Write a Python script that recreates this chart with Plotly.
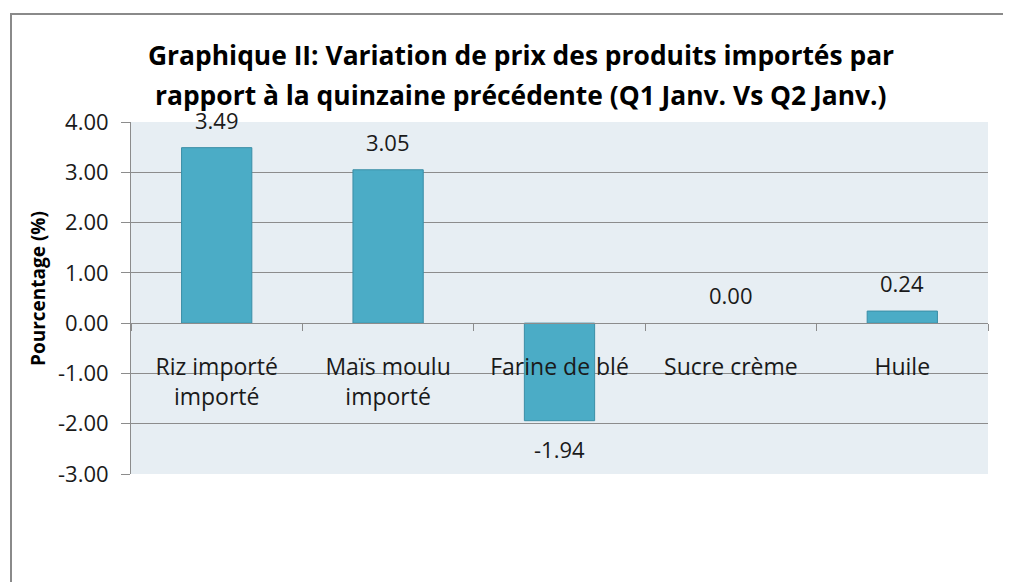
import plotly.graph_objects as go

categories = ["Riz importé<br>importé", "Maïs moulu<br>importé", "Farine de blé", "Sucre crème", "Huile"]
values = [3.49, 3.05, -1.94, 0.00, 0.24]
y_ticks = [4, 3, 2, 1, 0, -1, -2, -3]
title_lines = [
    "Graphique II: Variation de prix des produits importés par",
    "rapport à la quinzaine précédente (Q1 Janv. Vs Q2 Janv.)",
]
y_title = "Pourcentage (%)"

FONT = "Open Sans"
GRID = "#8c8c8c"
TXT = "#1a1a1a"

W, H = 1011, 582
OFF = 8  # page body margin offset
L, R, T, B = 131 - OFF, W - (988 - OFF), 122 - OFF, H - (474 - OFF)
pw, ph = W - L - R, H - T - B


def px2paper(px, py):
    return (px - OFF - L) / pw, (H - B - (py - OFF)) / ph


fig = go.Figure()
fig.add_trace(go.Bar(
    x=categories, y=values,
    marker=dict(color="#4bacc6",
                line=dict(color="#3b8ea6", width=[1 if v != 0 else 0 for v in values])),
    hoverinfo="skip",
))

# data labels
for c, v in zip(categories, values):
    fig.add_annotation(x=c, y=v, text=f"{v:.2f}", showarrow=False,
                       yanchor="bottom" if v >= 0 else "top",
                       yshift=11 if v >= 0 else -11,
                       font=dict(family=FONT, size=22, color=TXT))

# title lines
for line, sy in zip(title_lines, [55, 95]):
    x, y = px2paper(521, sy)
    fig.add_annotation(x=x, y=y, xref="paper", yref="paper",
                       text=f"<b>{line}</b>", showarrow=False,
                       xanchor="center", yanchor="middle",
                       font=dict(family=FONT, size=26.4, color="#000"))

# y axis title
x, y = px2paper(38, 289)
fig.add_annotation(x=x, y=y, xref="paper", yref="paper",
                   text=f"<b>{y_title}</b>", showarrow=False, textangle=-90,
                   xanchor="center", yanchor="middle",
                   font=dict(family=FONT, size=19, color="#000"))

# chart outer border
x0, y1 = px2paper(11, 14)
x1, y0 = px2paper(1060, 650)
fig.add_shape(type="rect", xref="paper", yref="paper",
              x0=x0, x1=x1, y0=y0, y1=y1,
              line=dict(color="#8a8a8a", width=2), fillcolor="rgba(0,0,0,0)", layer="below")

ymin, ymax = -3, 4
fig.update_layout(
    width=W, height=H,
    margin=dict(l=L, r=R, t=T, b=B),
    paper_bgcolor="white",
    plot_bgcolor="#e7eef3",
    showlegend=False,
    bargap=0.59,
    font=dict(family=FONT, size=22, color=TXT),
    xaxis=dict(
        anchor="free", position=(0 - ymin) / (ymax - ymin),
        showline=True, linecolor=GRID, linewidth=1,
        ticks="outside", tickson="boundaries", ticklen=7, tickcolor=GRID,
        showgrid=False, ticklabelstandoff=23, automargin=False,
        tickfont=dict(family=FONT, size=23, color=TXT),
        fixedrange=True,
    ),
    yaxis=dict(
        range=[ymin, ymax], tickvals=y_ticks,
        ticktext=[f"{v:.2f}" for v in y_ticks],
        showline=True, linecolor=GRID, linewidth=1,
        ticks="outside", ticklen=9, tickcolor=GRID,
        showgrid=True, gridcolor=GRID, gridwidth=1, zeroline=False,
        automargin=False, ticklabelstandoff=8,
        tickfont=dict(family=FONT, size=22, color=TXT),
        fixedrange=True,
    ),
)

fig.write_html("out.html")
